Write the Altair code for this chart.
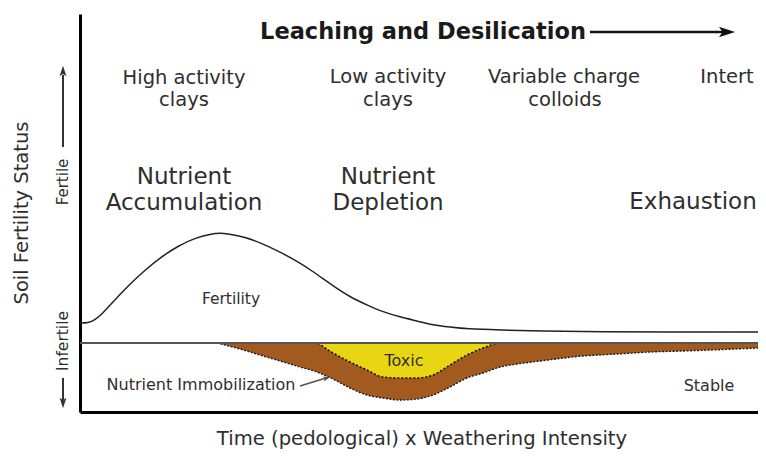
import altair as alt
import pandas as pd

# ---- data (time units from the left axis, fertility-status units from the bottom axis) ----
fert_t = [0, 8, 15, 23, 31, 48, 65, 81, 98, 115, 131, 140, 148, 165, 181, 198, 215, 231,
          253, 270, 287, 303, 320, 337, 353, 370, 387, 420, 460, 520, 600, 678]
fert_s = [89, 89, 92, 99, 108, 126, 142, 155, 166, 174, 178, 179, 178, 175, 169, 161, 152, 142,
          126, 115, 107, 100, 95, 91, 87, 85, 83, 82, 81, 80, 80, 80]

base_level = 69

immob_t = [137, 160, 180, 200, 220, 237, 253, 270, 287, 303, 320, 337, 353, 370, 387,
           403, 420, 437, 460, 503, 537, 570, 603, 678]
immob_s = [69, 63, 57, 51, 45, 40, 33, 24, 17, 14, 12, 13, 17, 25, 34,
           39, 45, 48, 51, 56, 58, 60, 61, 64]

toxic_t = [238, 253, 270, 287, 303, 320, 337, 353, 370, 387, 403, 417]
toxic_s = [69, 59, 50, 42, 35, 34, 34, 37, 47, 57, 64, 69]

# annotations
labels = ["High activity", "clays", "Low activity", "clays", "Variable charge", "colloids",
          "Intert", "Nutrient", "Accumulation", "Nutrient", "Depletion", "Exhaustion",
          "Fertility", "Toxic", "Nutrient Immobilization", "Stable",
          "Time (pedological) x Weathering Intensity",
          "Soil Fertility Status", "Fertile", "Infertile"]
label_t = [104, 104, 308, 308, 484, 485, 647, 104, 104, 308, 308, 613,
           151, 324, 121, 629, 342, -58, -17, -17]
label_s = [334, 312, 335, 312, 335, 312, 335, 235, 209, 235, 209, 210,
           113, 51, 27, 26, -27, 199, 230, 71]
label_size = [19.5, 19.5, 19.5, 19.5, 19.5, 19.5, 19.5, 23, 23, 23, 23, 23,
              15.5, 16, 16, 16, 19.6, 19.5, 15, 15.5]
label_angle = [0] * 17 + [270, 270, 270]

title_text = ["Leaching and Desilication"]
title_t = [343]
title_s = [380]

# arrows: shaft segments and heads
shaft_t = [510, -17, -17, 220]
shaft_t2 = [646, -17, -17, 246]
shaft_s = [380, 265, 34, 26]
shaft_s2 = [380, 337, 10, 34]
shaft_color = ["#111", "#333", "#333", "#555"]
shaft_width = [2.5, 2, 2, 1.5]
head_t = [647, -17, -17, 247]
head_s = [380, 341, 9, 34]
head_angle = [0, 270, 90, 343]
head_size = [260, 110, 110, 60]
head_color = ["#111", "#333", "#333", "#555"]

# ---- build tables ----
fert = pd.DataFrame({"t": fert_t, "s": fert_s})
immob = pd.DataFrame({"t": immob_t, "s": immob_s, "top": base_level})
toxic = pd.DataFrame({"t": toxic_t, "s": toxic_s, "top": base_level})
base = pd.DataFrame({"t": [0], "t2": [678], "s": [base_level]})
ann = pd.DataFrame({"label": labels, "t": label_t, "s": label_s,
                    "size": label_size, "angle": label_angle})
ttl = pd.DataFrame({"label": title_text, "t": title_t, "s": title_s})
shafts = pd.DataFrame({"t": shaft_t, "t2": shaft_t2, "s": shaft_s, "s2": shaft_s2,
                       "c": shaft_color, "w": shaft_width})
heads = pd.DataFrame({"t": head_t, "s": head_s, "angle": head_angle,
                      "size": head_size, "c": head_color})

xs = alt.Scale(domain=[0, 678], nice=False, zero=False)
ys = alt.Scale(domain=[0, 398], nice=False, zero=False)
xax = alt.Axis(domainColor="black", domainWidth=3, ticks=False, labels=False,
               grid=False, title=None)
yax = alt.Axis(domainColor="black", domainWidth=3, ticks=False, labels=False,
               grid=False, title=None)


def X(f):
    return alt.X(f, type="quantitative", scale=xs, axis=xax)


def Y(f):
    return alt.Y(f, type="quantitative", scale=ys, axis=yax)


FONT = "DejaVu Sans"

brown = alt.Chart(immob).mark_area(color="#A35A1E", interpolate="monotone").encode(
    x=X("t"), y=Y("s"), y2="top")
yellow = alt.Chart(toxic).mark_area(color="#E8D612", interpolate="monotone").encode(
    x=X("t"), y=Y("s"), y2="top")
brown_edge = alt.Chart(immob).mark_line(color="#1a1a1a", strokeWidth=1.4, strokeDash=[2, 1.5],
                                        interpolate="monotone").encode(x=X("t"), y=Y("s"))
toxic_edge = alt.Chart(toxic).mark_line(color="#111", strokeWidth=1.6, strokeDash=[2, 2],
                                        interpolate="monotone").encode(x=X("t"), y=Y("s"))
baseline = alt.Chart(base).mark_rule(color="#555", strokeWidth=2).encode(
    x=X("t"), x2="t2", y=Y("s"))
fertility = alt.Chart(fert).mark_line(color="#222", strokeWidth=1.5,
                                      interpolate="basis").encode(x=X("t"), y=Y("s"))
texts = alt.Chart(ann).mark_text(font=FONT, color="#2e2e2e", baseline="middle",
                                 align="center").encode(
    x=X("t"), y=Y("s"), text="label",
    size=alt.Size("size:Q", scale=None),
    angle=alt.Angle("angle:Q", scale=None))
title = alt.Chart(ttl).mark_text(font=FONT, fontWeight="bold", fontSize=22.5, color="#1a1a1a",
                                 baseline="middle", align="center").encode(
    x=X("t"), y=Y("s"), text="label")
arrow_shafts = alt.Chart(shafts).mark_rule().encode(
    x=X("t"), x2="t2", y=Y("s"), y2="s2",
    color=alt.Color("c:N", scale=None),
    strokeWidth=alt.StrokeWidth("w:Q", scale=None))
arrow_heads = alt.Chart(heads).mark_point(
    shape="M1,0 L-1,-0.65 L-0.55,0 L-1,0.65 Z", filled=True, opacity=1).encode(
    x=X("t"), y=Y("s"),
    angle=alt.Angle("angle:Q", scale=None),
    size=alt.Size("size:Q", scale=None),
    color=alt.Color("c:N", scale=None))

chart = alt.layer(brown, yellow, brown_edge, toxic_edge, baseline, fertility,
                  texts, title, arrow_shafts, arrow_heads).properties(
    width=678, height=398,
    padding={"left": 72, "top": 6, "right": 0, "bottom": 37},
    autosize=alt.AutoSizeParams(type="none"),
    background="white",
).configure_view(stroke=None)

chart.save("out.html", embed_options={"renderer": "svg", "actions": False})
